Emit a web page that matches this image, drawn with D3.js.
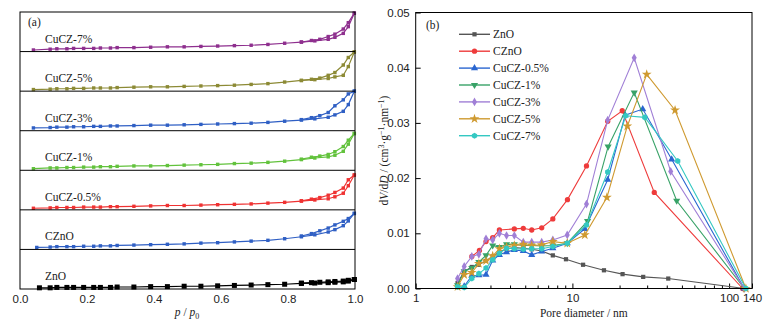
<!DOCTYPE html>
<html lang="en">
<head>
<meta charset="UTF-8">
<title>N2 isotherms and pore size distribution</title>
<script src="https://cdn.jsdelivr.net/npm/d3@7/dist/d3.min.js"></script>
<style>
    body { margin: 0; background: #fff; }
    svg { display: block; font-family: "Liberation Serif", "DejaVu Serif", serif; }
    .frame { fill: none; stroke: #000; stroke-width: 1; }
    .tick text { font-size: 11.5px; fill: #222; }
</style>
</head>
<body>
<script>
    const width = 767;
    const height = 327;

    // (a) isotherms, strips from top to bottom
    const isoNames = ['CuCZ-7%', 'CuCZ-5%', 'CuCZ-3%', 'CuCZ-1%', 'CuCZ-0.5%', 'CZnO', 'ZnO'];
    const isoColors = ['#8e2f8e', '#8c8a35', '#2f5fc4', '#62c23c', '#ef3232', '#2f5fc4', '#000000'];
    const pAds = [0.04, 0.09, 0.11, 0.14, 0.16, 0.19, 0.22, 0.24, 0.27, 0.29, 0.34, 0.39, 0.44, 0.49,
        0.54, 0.59, 0.64, 0.69, 0.74, 0.79, 0.84, 0.88, 0.92, 0.94, 0.965, 0.98, 0.998];
    const pDes = [0.998, 0.98, 0.965, 0.94, 0.92, 0.895, 0.87, 0.84];
    const firstP = [0.04, 0.04, 0.04, 0.04, 0.04, 0.05, 0.058];

    // relative adsorbed volume inside each strip (0 = strip bottom, 1 = strip top)
    const ads7 = [0.04, 0.06, 0.07, 0.07, 0.08, 0.08, 0.08, 0.09, 0.09, 0.10, 0.10, 0.11, 0.12, 0.12, 0.13, 0.14, 0.15, 0.16, 0.18, 0.21, 0.24, 0.27, 0.31, 0.36, 0.46, 0.63, 0.97];
    const des7 = [0.97, 0.73, 0.57, 0.44, 0.38, 0.31, 0.28, 0.24];
    const ads5 = [0.04, 0.05, 0.06, 0.06, 0.07, 0.07, 0.08, 0.08, 0.08, 0.09, 0.10, 0.11, 0.11, 0.12, 0.13, 0.14, 0.15, 0.17, 0.19, 0.23, 0.27, 0.29, 0.32, 0.36, 0.40, 0.62, 0.99];
    const des5 = [0.99, 0.85, 0.66, 0.47, 0.40, 0.33, 0.30, 0.27];
    const ads3 = [0.07, 0.08, 0.09, 0.09, 0.10, 0.10, 0.11, 0.11, 0.12, 0.12, 0.13, 0.14, 0.14, 0.15, 0.16, 0.17, 0.18, 0.19, 0.21, 0.24, 0.27, 0.30, 0.34, 0.40, 0.49, 0.66, 1.0];
    const des3 = [1.0, 0.93, 0.78, 0.63, 0.46, 0.38, 0.33, 0.28];
    const ads1 = [0.04, 0.06, 0.06, 0.07, 0.07, 0.08, 0.08, 0.09, 0.09, 0.10, 0.11, 0.11, 0.12, 0.13, 0.14, 0.15, 0.17, 0.18, 0.20, 0.23, 0.27, 0.31, 0.34, 0.38, 0.48, 0.66, 0.93];
    const des1 = [0.93, 0.76, 0.60, 0.47, 0.40, 0.36, 0.33, 0.28];
    const ads05 = [0.04, 0.05, 0.06, 0.06, 0.06, 0.07, 0.07, 0.07, 0.08, 0.08, 0.09, 0.10, 0.11, 0.11, 0.12, 0.13, 0.14, 0.15, 0.17, 0.19, 0.22, 0.25, 0.28, 0.33, 0.42, 0.61, 0.88];
    const des05 = [0.88, 0.76, 0.55, 0.44, 0.37, 0.31, 0.27, 0.23];
    const adsCZnO = [0.05, 0.06, 0.07, 0.07, 0.07, 0.08, 0.08, 0.09, 0.09, 0.10, 0.11, 0.12, 0.13, 0.14, 0.16, 0.17, 0.19, 0.21, 0.23, 0.27, 0.32, 0.37, 0.44, 0.50, 0.60, 0.72, 0.91];
    const desCZnO = [0.91, 0.78, 0.71, 0.62, 0.54, 0.47, 0.40, 0.34];
    const adsZnO = [0.03, 0.03, 0.04, 0.04, 0.04, 0.04, 0.04, 0.04, 0.04, 0.05, 0.05, 0.06, 0.06, 0.07, 0.07, 0.08, 0.09, 0.10, 0.11, 0.12, 0.14, 0.15, 0.16, 0.17, 0.18, 0.20, 0.24];
    const desZnO = [0.24, 0.22, 0.20, 0.19, 0.18, 0.17, 0.16, 0.15];

    const adsAll = [ads7, ads5, ads3, ads1, ads05, adsCZnO, adsZnO];
    const desAll = [des7, des5, des3, des1, des05, desCZnO, desZnO];
    const pTicks = [0, 0.2, 0.4, 0.6, 0.8, 1.0];

    // (b) pore size distribution, [diameter nm, dV/dD]
    const psdNames = ['ZnO', 'CZnO', 'CuCZ-0.5%', 'CuCZ-1%', 'CuCZ-3%', 'CuCZ-5%', 'CuCZ-7%'];
    const psdColors = ['#555555', '#ee3b3b', '#2a66d0', '#38a267', '#a07fd6', '#cf9a30', '#34c8c2'];
    const psdZnO = [[1.85, 0.0010], [2.04, 0.0031], [2.28, 0.0039], [2.53, 0.0043], [2.81, 0.0050], [3.1, 0.0058], [3.42, 0.0066], [3.8, 0.0072], [4.26, 0.0074], [4.86, 0.0073], [5.5, 0.0071], [6.37, 0.0068], [7.5, 0.0060], [9.1, 0.0053], [11.7, 0.0043], [15.9, 0.0033], [20.9, 0.0026], [28.3, 0.0021], [40.9, 0.0018], [125, 0]];
    const psdCZnO = [[2.28, 0.0058], [2.55, 0.0069], [2.81, 0.0085], [3.1, 0.0092], [3.42, 0.0106], [4.26, 0.0108], [4.86, 0.0109], [5.5, 0.0106], [6.37, 0.0110], [7.5, 0.0126], [9.3, 0.0161], [12.3, 0.0222], [16.8, 0.0303], [20.8, 0.0322], [33.3, 0.0174], [122, 0]];
    const psdCu05 = [[2.04, 0.0004], [2.28, 0.0023], [2.53, 0.0024], [2.81, 0.0025], [3.1, 0.0051], [3.42, 0.0061], [3.8, 0.0066], [4.26, 0.0070], [4.86, 0.0068], [5.5, 0.0061], [6.37, 0.0067], [7.5, 0.0073], [9.27, 0.0082], [12.0, 0.0108], [16.8, 0.0197], [21.7, 0.0314], [28.1, 0.0325], [43, 0.0234], [125, 0]];
    const psdCu1 = [[1.85, 0.0006], [2.04, 0.0031], [2.28, 0.0037], [2.53, 0.0048], [2.81, 0.0060], [3.1, 0.0078], [3.42, 0.0075], [3.8, 0.0080], [4.26, 0.0080], [4.86, 0.0078], [5.5, 0.0078], [6.37, 0.0077], [7.5, 0.0078], [9.27, 0.0082], [12.5, 0.0122], [16.9, 0.0257], [24.8, 0.0355], [46.3, 0.0159], [125, 0]];
    const psdCu3 = [[1.85, 0.0018], [2.04, 0.0040], [2.28, 0.0058], [2.53, 0.0062], [2.81, 0.0090], [3.1, 0.0088], [3.42, 0.0100], [3.8, 0.0096], [4.26, 0.0096], [4.86, 0.0084], [5.5, 0.0084], [6.37, 0.0084], [7.5, 0.0088], [9.27, 0.0097], [12.3, 0.0153], [16.8, 0.0305], [24.8, 0.0418], [42.4, 0.0212], [125, 0]];
    const psdCu5 = [[1.85, 0.0003], [2.04, 0.0025], [2.28, 0.0029], [2.53, 0.0045], [2.81, 0.0050], [3.1, 0.0059], [3.42, 0.0072], [3.8, 0.0075], [4.26, 0.0078], [4.86, 0.0080], [5.5, 0.0078], [6.37, 0.0079], [7.5, 0.0085], [9.27, 0.0082], [12.0, 0.0097], [16.6, 0.0165], [22.4, 0.0294], [29.8, 0.0388], [45.2, 0.0323], [128, 0]];
    const psdCu7 = [[1.85, 0.0003], [2.04, 0.0002], [2.28, 0.0018], [2.53, 0.0027], [2.81, 0.0037], [3.1, 0.0052], [3.42, 0.0064], [3.8, 0.0073], [4.26, 0.0072], [4.86, 0.0071], [5.5, 0.0072], [6.37, 0.0072], [7.5, 0.0076], [9.27, 0.0082], [12.3, 0.0115], [16.8, 0.0211], [21.9, 0.0313], [29, 0.031], [47, 0.0231], [128, 0]];
    const psdAll = [psdZnO, psdCZnO, psdCu05, psdCu1, psdCu3, psdCu5, psdCu7];
    const dTicks = [1, 10, 100, 140];
    const dMinor = [2, 3, 4, 5, 6, 7, 8, 9, 20, 30, 40, 50, 60, 70, 80, 90];
    const vTicks = [0, 0.01, 0.02, 0.03, 0.04, 0.05];

    let svg = d3.select('body')
        .append('svg')
        .attr('width', width)
        .attr('height', height);

    // ---------- panel (a) ----------
    const aLeft = 20, aRight = 355, aTop = 12, aBottom = 289;
    const stripH = (aBottom - aTop) / isoNames.length;
    const xA = d3.scaleLinear().domain([0, 1]).range([aLeft, aRight]);

    let gA = svg.append('g');

    isoNames.forEach((name, i) => {
        const y0 = aTop + i * stripH;
        const yS = d3.scaleLinear().domain([0, 1]).range([y0 + stripH, y0]);
        const ads = adsAll[i].map((v, k) => [k === 0 ? firstP[i] : pAds[k], v]);
        const des = desAll[i].map((v, k) => [pDes[k], v]);
        const line = d3.line().x(d => xA(d[0])).y(d => yS(d[1]));
        const col = isoColors[i];
        const ms = i === 6 ? 5 : 3.4;

        [ads, des].forEach(branch => {
            gA.append('path')
                .attr('d', line(branch))
                .attr('fill', 'none')
                .attr('stroke', col)
                .attr('stroke-width', 1.2);
            gA.append('g').selectAll('rect')
                .data(branch)
                .enter()
                .append('rect')
                .attr('x', d => xA(d[0]) - ms / 2)
                .attr('y', d => yS(d[1]) - ms / 2)
                .attr('width', ms)
                .attr('height', ms)
                .attr('fill', col);
        });

        gA.append('text')
            .attr('x', 45)
            .attr('y', y0 + stripH - 9)
            .attr('font-size', '11.5px')
            .attr('fill', '#222')
            .text(name);

        if (i > 0) {
            gA.append('line')
                .attr('x1', aLeft).attr('x2', aRight)
                .attr('y1', y0).attr('y2', y0)
                .attr('stroke', '#000').attr('stroke-width', 1);
        }
    });

    gA.append('rect').attr('class', 'frame')
        .attr('x', aLeft).attr('y', aTop)
        .attr('width', aRight - aLeft).attr('height', aBottom - aTop);

    gA.append('g')
        .attr('transform', `translate(0,${aBottom})`)
        .call(d3.axisBottom(xA).tickValues(pTicks).tickFormat(d3.format('.1f')).tickSize(0).tickPadding(6))
        .call(g => g.select('.domain').remove());

    gA.append('text').attr('x', 28).attr('y', 26).attr('font-size', '11.5px').attr('fill', '#222').text('(a)');

    let pLabel = gA.append('text').attr('x', 187).attr('y', 316).attr('text-anchor', 'middle')
        .attr('font-size', '11.5px').attr('fill', '#222');
    pLabel.append('tspan').attr('font-style', 'italic').text('p');
    pLabel.append('tspan').text(' / ');
    pLabel.append('tspan').attr('font-style', 'italic').text('p');
    pLabel.append('tspan').attr('font-size', '8px').attr('dy', 3).text('0');

    // ---------- panel (b) ----------
    const bLeft = 415.7, bRight = 752, bTop = 12.5, bBottom = 288.5;
    const xB = d3.scaleLog().domain([1, 140]).range([bLeft, bRight]);
    const yB = d3.scaleLinear().domain([0, 0.05]).range([bBottom, bTop]);

    let gB = svg.append('g');

    gB.append('g')
        .attr('transform', `translate(0,${bBottom})`)
        .call(d3.axisBottom(xB).tickValues(dMinor).tickFormat('').tickSize(-3).tickSizeOuter(0))
        .call(g => g.select('.domain').remove());

    gB.append('g')
        .attr('transform', `translate(0,${bBottom})`)
        .call(d3.axisBottom(xB).tickValues(dTicks).tickFormat(d3.format('d')).tickSize(-5).tickPadding(5))
        .call(g => g.select('.domain').remove());

    gB.append('g')
        .attr('transform', `translate(${bLeft},0)`)
        .call(d3.axisLeft(yB).tickValues(vTicks).tickFormat(d3.format('.2f')).tickSize(-5).tickPadding(6))
        .call(g => g.select('.domain').remove());

    gB.selectAll('.tick line').attr('stroke', '#000');

    // hexagon marker
    const symbolHex = {
        draw(context, size) {
            const r = Math.sqrt(size / 2.6);
            for (let k = 0; k < 6; k++) {
                const a = Math.PI / 3 * k + Math.PI / 6;
                if (k === 0) context.moveTo(r * Math.cos(a), r * Math.sin(a));
                else context.lineTo(r * Math.cos(a), r * Math.sin(a));
            }
            context.closePath();
        }
    };
    const symbols = [
        { type: d3.symbolSquare, size: 18, rot: 0 },
        { type: d3.symbolCircle, size: 22, rot: 0 },
        { type: d3.symbolTriangle, size: 22, rot: 0 },
        { type: d3.symbolTriangle, size: 22, rot: 180 },
        { type: d3.symbolDiamond, size: 22, rot: 0 },
        { type: d3.symbolStar, size: 30, rot: 0 },
        { type: symbolHex, size: 24, rot: 0 }
    ];

    const lineB = d3.line().x(d => xB(d[0])).y(d => yB(d[1]));

    psdAll.forEach((series, i) => {
        const g = gB.append('g');
        g.append('path')
            .attr('d', lineB(series))
            .attr('fill', 'none')
            .attr('stroke', psdColors[i])
            .attr('stroke-width', 1.1);
        g.selectAll('path.m')
            .data(series)
            .enter()
            .append('path')
            .attr('class', 'm')
            .attr('d', d3.symbol().type(symbols[i].type).size(symbols[i].size))
            .attr('transform', d => `translate(${xB(d[0])},${yB(d[1])}) rotate(${symbols[i].rot})`)
            .attr('fill', psdColors[i]);
    });

    gB.append('rect').attr('class', 'frame')
        .attr('x', bLeft).attr('y', bTop)
        .attr('width', bRight - bLeft).attr('height', bBottom - bTop);

    // legend
    psdNames.forEach((name, i) => {
        const y = 34.3 + i * 16.9;
        gB.append('line')
            .attr('x1', 459).attr('x2', 490)
            .attr('y1', y).attr('y2', y)
            .attr('stroke', psdColors[i]).attr('stroke-width', 1.4);
        gB.append('path')
            .attr('d', d3.symbol().type(symbols[i].type).size(symbols[i].size))
            .attr('transform', `translate(474.5,${y}) rotate(${symbols[i].rot})`)
            .attr('fill', psdColors[i]);
        gB.append('text')
            .attr('x', 493).attr('y', y).attr('dy', '0.35em')
            .attr('font-size', '11.5px').attr('fill', '#222')
            .text(name);
    });

    gB.append('text').attr('x', 426).attr('y', 29).attr('font-size', '11.5px').attr('fill', '#222').text('(b)');

    gB.append('text').attr('x', (bLeft + bRight) / 2).attr('y', 317).attr('text-anchor', 'middle')
        .attr('font-size', '11.5px').attr('fill', '#222').text('Pore diameter / nm');

    let yLabel = gB.append('text')
        .attr('transform', `translate(388,${(bTop + bBottom) / 2}) rotate(-90)`)
        .attr('text-anchor', 'middle')
        .attr('font-size', '11.5px').attr('fill', '#222');
    yLabel.append('tspan').text('d');
    yLabel.append('tspan').attr('font-style', 'italic').text('V');
    yLabel.append('tspan').text('/d');
    yLabel.append('tspan').attr('font-style', 'italic').text('D');
    yLabel.append('tspan').text(' / (cm');
    yLabel.append('tspan').attr('font-size', '8px').attr('dy', -4).text('3');
    yLabel.append('tspan').attr('dy', 4).text('·g');
    yLabel.append('tspan').attr('font-size', '8px').attr('dy', -4).text('−1');
    yLabel.append('tspan').attr('dy', 4).text('·nm');
    yLabel.append('tspan').attr('font-size', '8px').attr('dy', -4).text('−1');
    yLabel.append('tspan').attr('dy', 4).text(')');
</script>
</body>
</html>
